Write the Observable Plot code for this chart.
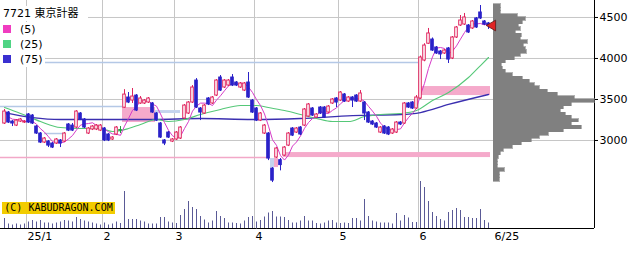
<!DOCTYPE html>
<html><head><meta charset="utf-8">
<script src="https://cdn.jsdelivr.net/npm/d3@7"></script>
<script src="https://cdn.jsdelivr.net/npm/@observablehq/plot@0.6"></script>
<style>
html,body{margin:0;padding:0;background:#fff;}
#wrap{position:relative;width:639px;height:255px;overflow:hidden;font-family:"DejaVu Sans","Noto Sans CJK JP",sans-serif;}
#wrap svg{position:absolute;left:0;top:0;}
.box{position:absolute;background:#fff;color:#000;font-size:11px;white-space:nowrap;}
.row{height:15px;line-height:15px;display:flex;align-items:center;}
.sw{display:inline-block;width:8px;height:8px;margin:0 9px 0 3px;}
#copy{position:absolute;left:2px;top:202px;width:113px;height:12px;line-height:12px;background:#f2cc00;font-family:"DejaVu Sans Mono",monospace;font-size:10px;text-align:center;color:#000;white-space:nowrap;overflow:hidden;}
</style></head><body><div id="wrap"></div>
<script>
// ---- data ----
const ticker = "7721 東京計器";
const opens = [3207,3341,3231,3182,3231,3219,3317,3304,3170,3085,2975,2987,2963,2963,3000,2987,3195,3182,3158,3329,3256,3085,3134,3134,3121,3146,3073,3012,3073,3121,
3400,3524,3487,3548,3451,3451,3463,3451,3329,3207,3000,3097,2987,3012,3024,3268,3329,3463,3731,3390,3329,3512,3451,3548,3768,3646,3670,3768,3707,3646,
3609,3707,3487,3390,3243,3085,3085,2658,2792,2760,2816,2938,3146,3097,3158,3182,3292,3390,3280,3402,3402,3341,3451,3512,3487,3561,3475,3524,3548,3475,
3463,3341,3231,3207,3097,3170,3158,3085,3097,3219,3207,3451,3463,3390,3512,3975,4180,4231,4134,4085,4061,4122,4000,4256,4402,4414,4402,4366,4488,4561,4451,4427];
const highs = [3378,3353,3243,3256,3268,3243,3329,3317,3182,3097,3036,3000,2975,3024,3012,3097,3207,3207,3365,3341,3268,3158,3182,3195,3195,3158,3085,3048,3170,3170,
3620,3585,3634,3560,3536,3500,3524,3463,3341,3219,3012,3109,3024,3109,3170,3439,3475,3670,3755,3402,3439,3524,3536,3743,3792,3743,3743,3804,3719,3707,
3707,3829,3500,3402,3341,3195,3097,2670,2914,2780,2926,3097,3158,3158,3170,3390,3451,3402,3329,3414,3414,3426,3512,3524,3597,3573,3536,3536,3560,3609,
3475,3353,3243,3219,3170,3182,3170,3146,3231,3231,3463,3463,3475,3548,4030,4180,4366,4250,4146,4097,4110,4134,4268,4390,4524,4549,4414,4463,4500,4646,4463,4439];
const lows = [3195,3207,3170,3170,3219,3207,3207,3195,3073,2963,2963,2914,2902,2951,2914,2975,3109,3109,3146,3243,3146,3073,3121,3121,3109,2987,2987,3000,3060,3085,
3390,3450,3451,3353,3440,3439,3451,3329,3231,3024,2938,3024,2975,3000,3012,3256,3317,3451,3390,3243,3317,3426,3439,3536,3597,3634,3658,3658,3658,3634,
3597,3512,3329,3231,3231,3073,2755,2487,2780,2630,2804,2926,3048,3085,3060,3170,3280,3292,3268,3317,3268,3329,3439,3402,3475,3463,3463,3402,3463,3463,
3243,3207,3182,3146,3085,3073,3060,3073,3085,3182,3195,3390,3378,3378,3500,3960,4170,4085,4049,3987,4049,3939,3987,4244,4390,4402,4305,4354,4366,4475,4402,4354];
const closes = [3353,3219,3207,3243,3256,3231,3219,3207,3085,2975,3024,2938,2914,3012,2963,3085,3121,3121,3353,3256,3158,3146,3170,3182,3182,3000,3000,3036,3158,3121,
3560,3463,3536,3365,3512,3487,3512,3341,3243,3036,2963,3036,3012,3097,3158,3426,3463,3646,3402,3341,3426,3439,3524,3731,3609,3731,3731,3670,3670,3695,
3695,3524,3341,3243,3329,3182,2780,2511,2902,2700,2914,3085,3060,3146,3073,3378,3439,3304,3317,3329,3280,3414,3500,3463,3585,3475,3524,3487,3475,3573,
3329,3219,3195,3158,3158,3085,3073,3134,3219,3195,3451,3402,3390,3524,4012,4158,4305,4097,4061,4049,4097,3987,4256,4378,4463,4500,4317,4451,4378,4488,4414,4402];
const volumes = [200,90,70,90,70,90,130,160,130,160,110,110,90,110,130,160,150,130,220,180,150,130,110,90,70,110,70,90,130,100,
740,180,180,180,150,130,90,90,90,220,220,130,110,100,260,380,540,420,380,240,170,110,150,340,240,200,110,110,100,90,
150,220,240,130,160,230,310,340,230,230,220,160,110,110,150,240,150,150,100,90,110,150,160,110,100,110,100,200,200,150,
580,240,150,130,110,110,110,90,300,150,260,210,120,120,940,820,540,320,240,180,150,320,360,400,360,220,220,200,200,380,160,110];
// moving averages: [day index, price]
const ma25 = [[0,3402],[4,3329],[9,3231],[14,3158],[19,3146],[24,3146],[27,3109],[31,3146],[34,3195],[38,3256],[41,3231],[45,3256],[49,3317],[54,3378],[59,3426],[63,3426],[66,3402],[70,3365],[74,3317],[78,3268],[82,3231],[86,3231],[90,3292],[94,3317],[99,3329],[103,3365],[107,3487],[111,3585],[116,3768],[119,3914],[121,4012]];
const ma75 = [[0,3341],[7,3280],[14,3256],[24,3256],[37,3256],[49,3268],[62,3256],[74,3268],[87,3304],[99,3317],[104,3341],[111,3439],[121,3561]];
// price-by-volume profile
const profilePrice = [4640,4600,4560,4520,4480,4440,4400,4360,4320,4280,4240,4200,4160,4120,4080,4040,4000,3960,3920,3880,3840,3800,3760,3720,3680,3640,3600,3560,3520,3480,3440,3400,3360,3320,3280,3240,3200,3160,3120,3080,3040,3000,2960,2920,2880,2840,2800,2760,2720,2680,2640,2600,2560,2520];
const profileVol = [7,7,7,24,32,29,25,27,22,28,27,34,30,32,33,27,21,12,8,9,12,19,29,36,41,46,54,64,81,101,78,70,67,72,78,85,78,88,70,55,46,38,28,19,10,7,5,4,4,4,11,6,6,6];
// gap zones and lines (day index range, price range)
const zones = [
  {from:29.5, to:37.75, lo:3219, hi:3402, kind:"up"},
  {from:37.75, to:44, lo:3329, hi:3365, kind:"down"},
  {from:66.5, to:67.5, lo:2670, hi:2780, kind:"down"},
  {from:67.5, to:68.5, lo:2670, hi:2780, kind:"up"},
  {from:69.75, to:121.5, lo:2792, hi:2853, kind:"up"},
  {from:103.5, to:121.5, lo:3548, hi:3658, kind:"up"}
];
const levels = [
  {from:-1, to:103.5, price:3951, kind:"down"},
  {from:-1, to:29.5, price:3414, kind:"down"},
  {from:10, to:15, price:3085, kind:"down"},
  {from:-1, to:66.5, price:2792, kind:"up"}
];
const priceTicks = [3000,3500,4000,4500];
const monthStartIdx = [6,25,43,63,84,104];
const monthLabels = ["25/1","2","3","4","5","6"];
const lastLabel = "6/25";
const maLabels = ["(5)","(25)","(75)"];

// ---- styles ----
const RED="#e0245e", BLUE="#2b22c8", GREEN="#1e9e3e";
const MA5C="#d63cc8", MA25C="#55c878", MA75C="#3b2fb0";
const zoneColor = {up:"#f5aacb", down:"#c4d4ee"};
const lineColor = {up:"#f2a8c8", down:"#b4c8e6"};
const W=639, H=255;
const xDomain=[-1,147.5], yDomain=[1927,4707];
const base = {width:W, height:H, marginLeft:0, marginRight:45, marginTop:0, marginBottom:27,
  style:{background:"transparent", fontFamily:"DejaVu Sans", fontSize:"11px", color:"#000", overflow:"visible"}};

const candles = closes.map((c,i)=>({i, open:opens[i], high:highs[i], low:lows[i], close:c, dir:Math.sign(c-opens[i])}));
const colorOf = d => d.dir>0 ? RED : d.dir<0 ? BLUE : GREEN;
const months = monthStartIdx.map((idx,k)=>({idx, label:monthLabels[k]}));
const lastIdx = candles.length-1;

const main = Plot.plot({...base,
  x:{domain:xDomain, axis:null},
  y:{domain:yDomain, axis:"right", ticks:priceTicks, tickSize:3, tickPadding:2, tickFormat:d=>String(d), label:null},
  marks:[
    Plot.ruleY(priceTicks, {stroke:"#c6c6c6"}),
    Plot.ruleX(months, {x:d=>d.idx-0.5, stroke:"#c6c6c6"}),
    Plot.rect(zones, {x1:"from", x2:"to", y1:"lo", y2:"hi", fill:d=>zoneColor[d.kind]}),
    Plot.ruleY(levels, {y:"price", x1:"from", x2:"to", stroke:d=>lineColor[d.kind], strokeWidth:1.5}),
    Plot.line(ma75, {x:d=>d[0], y:d=>d[1], stroke:MA75C, strokeWidth:1.3, curve:"monotone-x"}),
    Plot.line(ma25, {x:d=>d[0], y:d=>d[1], stroke:MA25C, strokeWidth:1.1, curve:"monotone-x"}),
    Plot.line(candles, Plot.windowY({k:5, anchor:"end"}, {x:"i", y:"close", stroke:MA5C, strokeWidth:1})),
    Plot.ruleX(candles, {x:"i", y1:"low", y2:"high", stroke:colorOf}),
    Plot.rect(candles, {x1:d=>d.i-0.32, x2:d=>d.i+0.32, y1:"open", y2:d=>d.dir===0 ? d.close+6 : d.close,
      fill:d=>d.dir>0 ? "#fff" : colorOf(d), stroke:colorOf, strokeWidth:1}),
    Plot.ruleX([xDomain[1]], {stroke:"#000"}),
    Plot.ruleY([yDomain[0]], {stroke:"#000"}),
    Plot.text(months, {x:d=>d.idx-0.5, text:"label", frameAnchor:"bottom", dy:8, dx:1, textAnchor:"start", lineAnchor:"middle", fill:"#000", fontSize:11}),
    Plot.text([lastIdx], {x:d=>d, text:[lastLabel], frameAnchor:"bottom", dy:8, dx:6, textAnchor:"start", lineAnchor:"middle", fill:"#000", fontSize:11})
  ]
});

const vol = Plot.plot({...base,
  x:{domain:xDomain, axis:null},
  y:{domain:[0,4560], axis:null},
  marks:[Plot.ruleX(volumes, {x:(d,i)=>i, y1:0, y2:d=>d, stroke:"#5a5a96"})]
});

const profile = profilePrice.map((p,k)=>({p, w:profileVol[k]}));
const prof = Plot.plot({...base, marginLeft:493,
  x:{domain:[0,101], axis:null},
  y:{domain:yDomain, axis:null},
  marks:[
    Plot.rect(profile, {x1:0, x2:"w", y1:d=>d.p-20, y2:d=>d.p+20, fill:"#808080", stroke:"#808080", strokeWidth:0.6, shapeRendering:"crispEdges"}),
    Plot.dot([candles[lastIdx]], {x:0, y:"close", symbol:"triangle", rotate:-90, r:4, fill:"#e02424", stroke:"#5a1a1a", strokeWidth:0.8, dx:-1})
  ]
});

const wrap = document.getElementById("wrap");
wrap.append(main, vol, prof);

const title = document.createElement("div");
title.className="box";
title.style.cssText="left:0;top:6px;height:15px;line-height:15px;padding:0 9px 0 3px;";
title.textContent = ticker;
wrap.append(title);

const legend = document.createElement("div");
legend.className="box";
legend.style.cssText="left:0;top:21.5px;width:45px;";
[MA5C, MA25C, MA75C].forEach((c,k)=>{
  const r=document.createElement("div"); r.className="row";
  const s=document.createElement("span"); s.className="sw"; s.style.background=[ "#f03cc0", "#4fd484", "#3a2fd0"][k];
  const t=document.createElement("span"); t.textContent=maLabels[k];
  r.append(s,t); legend.append(r);
});
wrap.append(legend);

const copy=document.createElement("div"); copy.id="copy"; copy.textContent="(C) KABUDRAGON.COM";
wrap.append(copy);
</script></body></html>
